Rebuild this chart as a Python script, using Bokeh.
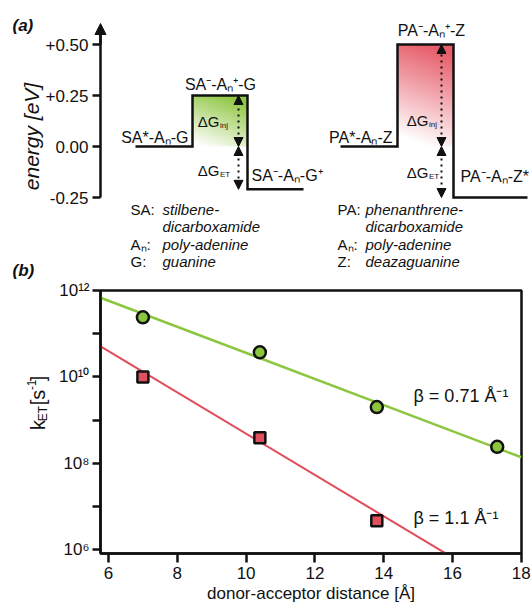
import math
import numpy as np
from bokeh.plotting import figure
from bokeh.layouts import column, row
from bokeh.models import Range1d, FixedTicker, Arrow, NormalHead
from bokeh.embed import file_html
from bokeh.resources import INLINE
from bokeh.core.properties import value

FONT = "Liberation Sans"
INK = "#111111"
GREEN = "#8cc63f"
RED = "#e0505e"

# ---------------- (a) energy diagram data ----------------
sa_states = ["SA*-Aₙ-G", "SA⁻-Aₙ⁺-G", "SA⁻-Aₙ-G⁺"]
sa_energy = [0.00, 0.25, -0.21]
pa_states = ["PA*-Aₙ-Z", "PA⁻-Aₙ⁺-Z", "PA⁻-Aₙ-Z*"]
pa_energy = [0.00, 0.50, -0.25]
energy_ticks = [-0.25, 0.0, 0.25, 0.50]
energy_tick_labels = ["-0.25", "0.00", "+0.25", "+0.50"]
def_keys_sa = ["SA:", "Aₙ:", "G:"]
def_vals_sa = ["stilbene-", "dicarboxamide", "poly-adenine", "guanine"]
def_keys_pa = ["PA:", "Aₙ:", "Z:"]
def_vals_pa = ["phenanthrene-", "dicarboxamide", "poly-adenine", "deazaguanine"]

# ---------------- (b) rate vs distance data ----------------
distance_sa = [7.0, 10.4, 13.8, 17.3]
k_sa = [2.4e11, 3.7e10, 2.0e9, 2.4e8]
distance_pa = [7.0, 10.4, 13.8]
k_pa = [1.0e10, 3.9e8, 4.7e6]
fit_sa_x = [5.77, 18.0]
fit_sa_k = [6.8e11, 1.38e8]
fit_pa_x = [5.77, 16.0]
fit_pa_k = [5.1e10, 6.6e5]
beta_labels = ["β = 0.71 Å⁻¹", "β = 1.1 Å⁻¹"]
x_ticks = [6, 8, 10, 12, 14, 16, 18]
k_ticks = [1e6, 1e7, 1e8, 1e9, 1e10, 1e11, 1e12]
k_tick_labels = ["10⁶", "", "10⁸", "", "10¹⁰", "", "10¹²"]

# ---------------- layout helpers (page pixels -> data) ----------------
TOP_H = 279
E0_PX, PX_PER_EV = 146.0, 204.0
AXIS_X = 100


def ev(py):
    return (E0_PX - py) / PX_PER_EV


def xd(px):
    return 6 + (px - 108) / 34.4


def yd(py):
    return 10 ** (12 - (py - 290) / 43.2)


# =========================== panel (a) ===========================
top = figure(width=532, height=TOP_H, x_range=Range1d(0, 532),
             y_range=Range1d(ev(TOP_H), ev(0)),
             output_backend="svg", toolbar_location=None,
             x_axis_location=None, y_axis_location=None,
             min_border_left=0, min_border_right=0, min_border_top=0,
             min_border_bottom=0)
top.xgrid.visible = False
top.ygrid.visible = False
top.outline_line_color = None
top.background_fill_color = "white"
top.border_fill_color = "white"

# energy axis drawn from the energy ticks
top.segment(x0=[AXIS_X], y0=[energy_ticks[0]], x1=[AXIS_X], y1=[ev(30)],
            line_width=2.5, line_color=INK)
top.segment(x0=[AXIS_X - 8] * len(energy_ticks), y0=energy_ticks,
            x1=[AXIS_X] * len(energy_ticks), y1=energy_ticks,
            line_width=2.5, line_color=INK)
top.add_layout(Arrow(end=NormalHead(size=11, fill_color=INK, line_color=INK),
                     x_start=AXIS_X, y_start=0.5, x_end=AXIS_X, y_end=ev(23),
                     line_width=2.5, line_color=INK))
top.text(x=[AXIS_X - 12] * len(energy_ticks), y=energy_ticks, text=energy_tick_labels,
         text_font=value(FONT), text_font_size="17px", text_color=INK,
         text_align="right", text_baseline="middle")
top.text(x=[31], y=[ev(136)], text=["energy [eV]"], angle=math.pi / 2,
         text_font=value(FONT), text_font_size="21px", text_font_style="italic",
         text_color=INK, text_align="center", text_baseline="middle")


def gradient(rgb, nx, ny, fn):
    img = np.zeros((ny, nx), dtype=np.uint32)
    view = img.view(dtype=np.uint8).reshape((ny, nx, 4))
    for j in range(ny):
        t = j / (ny - 1)
        for i in range(nx):
            s = i / (nx - 1)
            a = max(0.0, min(1.0, fn(t, s)))
            view[j, i, 0] = rgb[0]
            view[j, i, 1] = rgb[1]
            view[j, i, 2] = rgb[2]
            view[j, i, 3] = int(255 * a)
    return img


sa_edges = [135, 192, 247, 303]
pa_edges = [340, 397, 453, 527]

g_img = gradient((140, 196, 60), 55, 50,
                 lambda t, s: 0.95 * max(0, min(1, t * 0.85 + s * 0.35 - 0.05)))
top.image_rgba(image=[g_img], x=sa_edges[1], y=sa_energy[0],
               dw=sa_edges[2] - sa_edges[1], dh=sa_energy[1] - sa_energy[0])
r_img = gradient((228, 78, 92), 56, 100,
                 lambda t, s: 0.92 * max(0, min(1, t * 1.0 + s * 0.2 - 0.1)))
top.image_rgba(image=[r_img], x=pa_edges[1], y=pa_energy[0],
               dw=pa_edges[2] - pa_edges[1], dh=pa_energy[1] - pa_energy[0])


def level_path(edges, energies):
    xs, ys = [], []
    for i, e in enumerate(energies):
        xs += [edges[i], edges[i + 1]]
        ys += [e, e]
    return xs, ys


for edges, energies in ((sa_edges, sa_energy), (pa_edges, pa_energy)):
    xs, ys = level_path(edges, energies)
    top.line(xs, ys, line_width=2.5, line_color=INK, line_join="miter")


def dbl_arrow(x, y0, y1):
    top.add_layout(Arrow(start=NormalHead(size=9, fill_color=INK, line_color=INK),
                         end=NormalHead(size=9, fill_color=INK, line_color=INK),
                         x_start=x, y_start=y0, x_end=x, y_end=y1,
                         line_width=2, line_dash="dotted", line_color=INK))


dbl_arrow(238, sa_energy[0], sa_energy[1])
dbl_arrow(238, sa_energy[0], sa_energy[2])
dbl_arrow(441, pa_energy[0], pa_energy[1])
dbl_arrow(441, pa_energy[0], pa_energy[2])

lvl_kw = dict(text_font=value(FONT), text_font_size="16px", text_color=INK,
              text_baseline="middle")
top.text(x=[188, 392], y=[ev(137), ev(137)], text=[sa_states[0], pa_states[0]],
         text_align="right", **lvl_kw)
top.text(x=[220, 431], y=[ev(84), ev(30)], text=[sa_states[1], pa_states[1]],
         text_align="center", **lvl_kw)
top.text(x=[251, 460], y=[ev(175), ev(176)], text=[sa_states[2], pa_states[2]],
         text_align="left", **lvl_kw)

dg_kw = dict(text_font=value(FONT), text_color=INK, text_baseline="middle")
top.text(x=[219, 219, 428, 428], y=[ev(121), ev(170), ev(120), ev(172)],
         text=["ΔG", "ΔG", "ΔG", "ΔG"], text_align="right", text_font_size="15px", **dg_kw)
top.text(x=[219.5, 219.5, 428.5, 428.5], y=[ev(125), ev(174), ev(124), ev(176)],
         text=["inj", "ET", "inj", "ET"], text_align="left", text_font_size="8px", **dg_kw)

rows = [209, 226, 244, 261]
key_rows = [rows[0], rows[2], rows[3]]
def_kw = dict(text_font=value(FONT), text_font_size="15px", text_color=INK,
              text_baseline="middle", text_align="left")
top.text(x=[130] * 3, y=[ev(r) for r in key_rows], text=def_keys_sa, **def_kw)
top.text(x=[337] * 3, y=[ev(r) for r in key_rows], text=def_keys_pa, **def_kw)
top.text(x=[162] * 4, y=[ev(r) for r in rows], text=def_vals_sa,
         text_font_style="italic", **def_kw)
top.text(x=[365] * 4, y=[ev(r) for r in rows], text=def_vals_pa,
         text_font_style="italic", **def_kw)

top.text(x=[12, 12], y=[ev(25), ev(270)], text=["(a)", "(b)"],
         text_font=value(FONT), text_font_size="17px", text_font_style="bold italic",
         text_color=INK, text_baseline="middle", text_align="left")

# =========================== panel (b) ===========================
BOT_H = 609 - TOP_H
LAB_W = 50

lab = figure(width=LAB_W, height=BOT_H, x_range=Range1d(0, LAB_W),
             y_range=Range1d(609, TOP_H), output_backend="svg", toolbar_location=None,
             x_axis_location=None, y_axis_location=None,
             min_border_left=0, min_border_right=0, min_border_top=0,
             min_border_bottom=0)
lab.xgrid.visible = False
lab.ygrid.visible = False
lab.outline_line_color = None
for txt, px, py, size in (("k", 37, 454, "20px"), ("ET", 42, 443, "12px"),
                          ("[s", 37, 423, "20px"), ("-1", 31, 404, "12px"),
                          ("]", 37, 393, "20px")):
    lab.text(x=[px], y=[py], text=[txt], angle=math.pi / 2,
             text_font=value(FONT), text_font_size=size, text_color=INK,
             text_align="left", text_baseline="middle")

bot = figure(width=532 - LAB_W, height=BOT_H, x_range=Range1d(xd(100), xd(521)),
             y_range=Range1d(yd(553), yd(290)), y_axis_type="log",
             output_backend="svg", toolbar_location=None,
             min_border_left=100 - LAB_W, min_border_right=11,
             min_border_top=290 - TOP_H, min_border_bottom=56)
bot.xgrid.visible = False
bot.ygrid.visible = False
bot.outline_line_color = INK
bot.outline_line_width = 2.5
bot.background_fill_color = "white"
bot.border_fill_color = "white"

for ax in (bot.xaxis[0], bot.yaxis[0]):
    ax.axis_line_width = 2.5
    ax.axis_line_color = INK
    ax.major_tick_line_width = 2.5
    ax.major_tick_line_color = INK
    ax.major_tick_in = 0
    ax.minor_tick_line_color = None
    ax.major_label_text_font = FONT
    ax.major_label_text_font_size = "17px"
    ax.major_label_text_color = INK

bx = bot.xaxis[0]
bx.ticker = FixedTicker(ticks=x_ticks)
bx.major_tick_out = 9
bx.major_label_standoff = 4
bx.axis_label = "donor-acceptor distance [Å]"
bx.axis_label_text_font = FONT
bx.axis_label_text_font_style = "normal"
bx.axis_label_text_font_size = "17px"
bx.axis_label_text_color = INK
bx.axis_label_standoff = 2

by = bot.yaxis[0]
by.ticker = FixedTicker(ticks=k_ticks)
by.major_label_overrides = {t: l for t, l in zip(k_ticks, k_tick_labels)}
by.major_tick_out = 8
by.major_label_standoff = 3

bot.line(fit_sa_x, fit_sa_k, line_color=GREEN, line_width=2.5)
bot.line(fit_pa_x, fit_pa_k, line_color="#e24a58", line_width=2)
bot.scatter(distance_sa, k_sa, marker="circle", size=12, fill_color=GREEN,
            line_color=INK, line_width=2.5)
bot.scatter(distance_pa, k_pa, marker="square", size=11, fill_color=RED,
            line_color=INK, line_width=2.5)

bot.text(x=[xd(413), xd(413)], y=[yd(395), yd(517)], text=beta_labels,
         text_font=value(FONT), text_font_size="18px", text_color=INK,
         text_baseline="middle", text_align="left")

layout = column(top, row(lab, bot, spacing=0), spacing=0)
open("out.html", "w").write(file_html(layout, INLINE, title="kET vs distance"))
